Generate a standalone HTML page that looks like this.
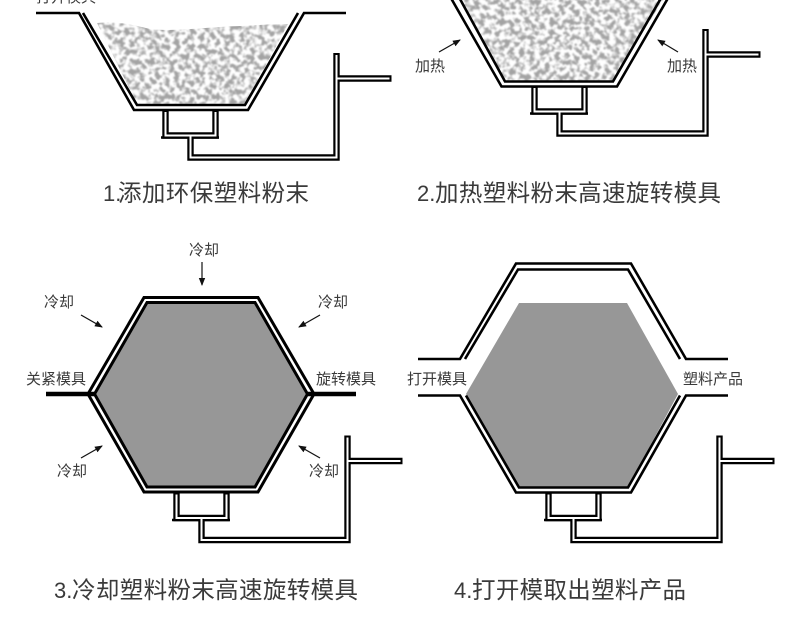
<!DOCTYPE html>
<html><head><meta charset="utf-8"><style>
html,body{margin:0;padding:0;background:#fff}
svg{display:block}
text{font-family:"Liberation Sans","WenQuanYi Zen Hei","Noto Sans CJK SC",sans-serif;fill:#3a3a3a}
.s{font-size:15px}.c{font-size:23.500px}.d{font-size:22px}
</style></head><body>
<svg width="790" height="627" viewBox="0 0 790 627" xmlns="http://www.w3.org/2000/svg">
<defs>
<filter id="pw" x="0" y="0" width="100%" height="100%" color-interpolation-filters="sRGB">
<feTurbulence type="fractalNoise" baseFrequency="0.2" numOctaves="2" seed="7"/>
<feColorMatrix type="matrix" values="5 0 0 0 -1.9 5 0 0 0 -1.9 5 0 0 0 -1.9 0 0 0 0 1"/>
<feComponentTransfer><feFuncR type="linear" slope="0.36" intercept="0.64"/><feFuncG type="linear" slope="0.36" intercept="0.64"/><feFuncB type="linear" slope="0.36" intercept="0.64"/></feComponentTransfer>
<feGaussianBlur stdDeviation="0.8"/>
<feComposite in2="SourceAlpha" operator="in"/>
</filter>
<marker id="ah" markerWidth="8" markerHeight="8" refX="7" refY="4" orient="auto" markerUnits="userSpaceOnUse"><path d="M0 0.8L8 4L0 7.2z" fill="#111"/></marker>
</defs>
<rect width="790" height="627" fill="#fff"/>

<!-- powder 1 -->
<path d="M97 23C115 21 130 24 150 29C175 32 205 27 240 26C260 25 275 24 288 24L245 104H137Z" fill="#000" filter="url(#pw)"/>
<!-- powder 2 -->
<path d="M458 -2H664L613 81H505Z" fill="#000" filter="url(#pw)"/>

<!-- trough 1 and 2 -->
<g fill="none" stroke="#000" stroke-width="2.600">
<path d="M36 13H79L134 110H248L304 13H346"/>
<path d="M83 13L137 105H245L298 13"/>
<path d="M451.500 -1L501.500 86.500H617L667.500 -1"/>
<path d="M460 -1L505 81.500H613L660.500 -1"/>
</g>

<!-- hexagon 3 -->
<path d="M146 302H256L308 394L256 487H146L94 394Z" fill="#979797"/>
<g fill="none" stroke="#000" stroke-width="3">
<path d="M144 297.500H258L314 394L258 492H144L88 394Z"/>
<path d="M147 302.500H255L307.500 394L255 487H147L94.500 394Z"/>
</g>
<path d="M46 394H94M308 394H356" stroke="#000" stroke-width="4.600" fill="none"/>

<!-- hexagon 4 -->
<path d="M519 303H627L678 394L628 487H518L466 394Z" fill="#979797"/>
<g fill="none" stroke="#000" stroke-width="2.600">
<path d="M418 359H460L516 263.500H631L686 359H728"/>
<path d="M465 359L518 269.500H628L680 359"/>
<path d="M418 395.500H460L516 492.500H631L686 395.500H728"/>
<path d="M466 395.500L519 487.500H628L680 395.500"/>
</g>

<!-- pipes (four copies) -->
<g>
<path d="M165.500 110V135.500H215.500V110M190.500 135V157.500H336.500V53M336.500 78.500H391.500" fill="none" stroke="#000" stroke-width="6.400"/>
<path d="M161 137.500H219" fill="none" stroke="#000" stroke-width="2.400"/>
<path d="M165.500 112V135.500H215.500V112M190.500 135.500V157.500H336.500V55M336.500 78.500H389.500" fill="none" stroke="#fff" stroke-width="2"/>
</g>
<g transform="translate(369,-24)">
<path d="M165.500 110V135.500H215.500V110M190.500 135V157.500H336.500V53M336.500 78.500H391.500" fill="none" stroke="#000" stroke-width="6.400"/>
<path d="M161 137.500H219" fill="none" stroke="#000" stroke-width="2.400"/>
<path d="M165.500 112V135.500H215.500V112M190.500 135.500V157.500H336.500V55M336.500 78.500H389.500" fill="none" stroke="#fff" stroke-width="2"/>
</g>
<g transform="translate(11,382.500)">
<path d="M165.500 110V135.500H215.500V110M190.500 135V157.500H336.500V53M336.500 78.500H391.500" fill="none" stroke="#000" stroke-width="6.400"/>
<path d="M161 137.500H219" fill="none" stroke="#000" stroke-width="2.400"/>
<path d="M165.500 112V135.500H215.500V112M190.500 135.500V157.500H336.500V55M336.500 78.500H389.500" fill="none" stroke="#fff" stroke-width="2"/>
</g>
<g transform="translate(383,382.500)">
<path d="M165.500 110V135.500H215.500V110M190.500 135V157.500H336.500V53M336.500 78.500H391.500" fill="none" stroke="#000" stroke-width="6.400"/>
<path d="M161 137.500H219" fill="none" stroke="#000" stroke-width="2.400"/>
<path d="M165.500 112V135.500H215.500V112M190.500 135.500V157.500H336.500V55M336.500 78.500H389.500" fill="none" stroke="#fff" stroke-width="2"/>
</g>

<!-- arrows -->
<g stroke="#111" stroke-width="1.200" fill="none">
<path d="M439 52L460 40" marker-end="url(#ah)"/>
<path d="M678 52L658 40" marker-end="url(#ah)"/>
<path d="M202 262V285" marker-end="url(#ah)"/>
<path d="M81 315L102 327" marker-end="url(#ah)"/>
<path d="M320 315L299 327" marker-end="url(#ah)"/>
<path d="M81 458L102 446" marker-end="url(#ah)"/>
<path d="M320 458L299 446" marker-end="url(#ah)"/>
</g>

<!-- small labels -->
<g class="s">
<text x="36" y="2" textLength="60">打开模具</text>
<text x="415" y="71" textLength="30">加热</text>
<text x="667" y="71" textLength="30">加热</text>
<text x="189" y="255" textLength="30">冷却</text>
<text x="44" y="307" textLength="30">冷却</text>
<text x="318" y="307" textLength="30">冷却</text>
<text x="57" y="476" textLength="30">冷却</text>
<text x="309" y="476" textLength="30">冷却</text>
<text x="26" y="384" textLength="60">关紧模具</text>
<text x="316" y="384" textLength="60">旋转模具</text>
<text x="407" y="384" textLength="60">打开模具</text>
<text x="683" y="384" textLength="60">塑料产品</text>
</g>

<!-- captions -->
<text class="d" x="103" y="201">1.</text>
<text class="c" x="118" y="201" textLength="191">添加环保塑料粉末</text>
<text class="d" x="417" y="201">2.</text>
<text class="c" x="435" y="201" textLength="286">加热塑料粉末高速旋转模具</text>
<text class="d" x="54" y="598">3.</text>
<text class="c" x="72" y="598" textLength="286">冷却塑料粉末高速旋转模具</text>
<text class="d" x="454" y="598">4.</text>
<text class="c" x="472" y="598" textLength="214">打开模取出塑料产品</text>
</svg>
</body></html>
